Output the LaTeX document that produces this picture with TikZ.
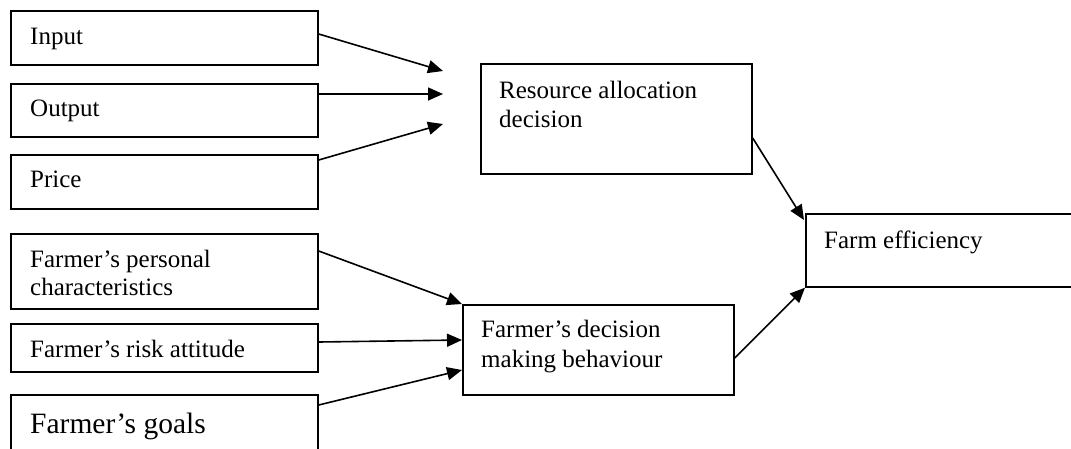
\documentclass[tikz,border=0pt]{standalone}
\usepackage{fontspec}
\setmainfont{Liberation Serif}
\usetikzlibrary{arrows.meta}
\begin{document}
\begin{tikzpicture}[x=1pt,y=-1pt,
 box/.style={draw, line width=1.7pt, rectangle, inner sep=0pt, anchor=north west},
 txt/.style={anchor=base west, inner sep=0pt, font=\fontsize{25}{29.5}\selectfont, align=left},
 big/.style={anchor=base west, inner sep=0pt, font=\fontsize{29.5}{34}\selectfont},
 arr/.style={line width=1.6pt, -{Triangle[length=15pt,width=13pt]}}]
\useasboundingbox (0,0) rectangle (1071,448);
\clip (0,0) rectangle (1071,448);
% boxes
\node[box, minimum width=307pt, minimum height=54pt] (in) at (10,10) {};
\node[box, minimum width=307pt, minimum height=53pt] (out) at (10,83) {};
\node[box, minimum width=307pt, minimum height=54pt] (pr) at (10,154) {};
\node[box, minimum width=307pt, minimum height=75pt] (pers) at (10,233) {};
\node[box, minimum width=307pt, minimum height=48pt] (risk) at (10,323) {};
\node[box, minimum width=307pt, minimum height=80pt] (goal) at (10,394) {};
\node[box, minimum width=271pt, minimum height=110pt] (res) at (480,63) {};
\node[box, minimum width=271pt, minimum height=90pt] (dec) at (462,304) {};
\node[box, minimum width=300pt, minimum height=73pt] (farm) at (805,213) {};
% texts (multi-line nodes are placed by the baseline of their last line)
\node[txt] (tin) at (30,44) {Input};
\node[txt] (tout) at (30,116) {Output};
\node[txt] (tpr) at (30,187) {Price};
\node[txt, font=\fontsize{25}{28}\selectfont] (tpers) at (30,295) {Farmer’s personal\\characteristics};
\node[txt] (trisk) at (30,357) {Farmer’s risk attitude};
\node[big] (tgoal) at (30,433) {Farmer’s goals};
\node[txt, font=\fontsize{25}{29}\selectfont] (tres) at (499,127) {Resource allocation\\decision};
\node[txt, font=\fontsize{25}{30}\selectfont] (tdec) at (481,367) {Farmer’s decision\\making behaviour};
\node[txt] (tfarm) at (824,248) {Farm efficiency};
% free arrow ends
\coordinate (t1) at (443,71);
\coordinate (t2) at (443,94);
\coordinate (t3) at (443,124);
% arrows
\draw[arr] ([yshift=-24pt]in.north east) -- (t1);
\draw[arr] ([yshift=-11pt]out.north east) -- (t2);
\draw[arr] ([yshift=-6pt]pr.north east) -- (t3);
\draw[arr] ([yshift=-18pt]pers.north east) -- (dec.north west);
\draw[arr] ([yshift=-19pt]risk.north east) -- ([yshift=-36pt]dec.north west);
\draw[arr] ([yshift=-11pt]goal.north east) -- ([yshift=-66pt]dec.north west);
\draw[arr] ([yshift=-75pt]res.north east) -- ([xshift=-1pt,yshift=-7pt]farm.north west);
\draw[arr] ([yshift=-54pt]dec.north east) -- (farm.south west);
\end{tikzpicture}
\end{document}
